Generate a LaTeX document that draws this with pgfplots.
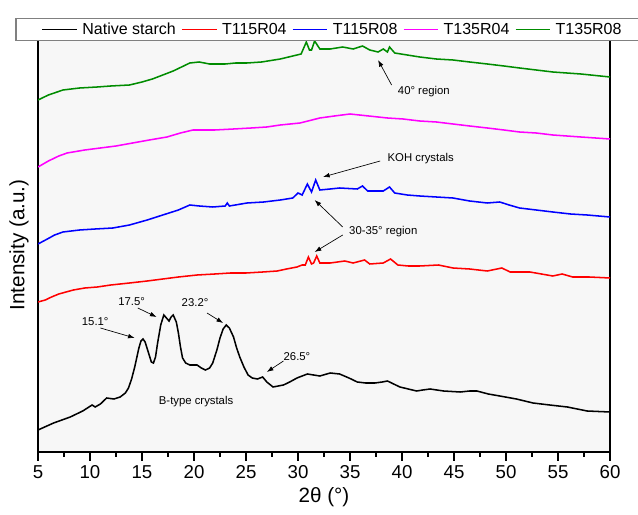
\documentclass[border=0pt]{standalone}
\usepackage{pgfplots}
\pgfplotsset{compat=1.18}
\usepackage{fontspec}
\setmainfont{Liberation Sans}
\usetikzlibrary{arrows.meta}
\definecolor{cgreen}{RGB}{0,140,0}
\definecolor{cmag}{RGB}{255,0,255}
\definecolor{cred}{RGB}{255,0,0}
\definecolor{cblue}{RGB}{0,0,255}
\begin{document}
\begin{tikzpicture}
\begin{axis}[
 scale only axis, width=429pt, height=310.5pt,
 xmin=5, xmax=60, ymin=0, ymax=414,
 xtick={5,10,...,60}, minor xtick={7.5,12.5,...,57.5},
 ytick=\empty,
 tick align=outside, xtick pos=bottom,
 major tick length=6.5pt, minor tick length=3.5pt,
 tick style={black, line width=0.8pt},
 axis line style={line width=0.8pt},
 axis background/.style={fill=black!3},
 tick label style={font=\fontsize{14}{16}\selectfont},
 /pgf/number format/assume math mode=true,
 xlabel={2θ (°)}, ylabel={Intensity (a.u.)},
 label style={font=\fontsize{15.5}{18}\selectfont},
 xlabel style={at={(rel axis cs:0.5,-0.1087)},anchor=center},
 ylabel style={at={(rel axis cs:-0.0332,0.5)},anchor=center},
 legend style={at={(-0.0385,1.0205)}, anchor=west, legend columns=5, draw=none, fill=white, name=leg, font=\fontsize{12}{14}\selectfont, inner xsep=19pt, inner ysep=1pt,
   /tikz/every even column/.append style={column sep=2pt},
   /tikz/every odd column/.append style={column sep=1.5pt}},
 legend entries={Native starch,T115R04,T115R08,T135R04,T135R08},
 every axis plot/.append style={line width=1.15pt},
]
\addlegendimage{legend image code/.code={\draw[draw=black,line width=1.15pt] (0pt,0pt) -- (26pt,0pt);}}
\addlegendimage{legend image code/.code={\draw[draw=cred,line width=1.15pt] (0pt,0pt) -- (26pt,0pt);}}
\addlegendimage{legend image code/.code={\draw[draw=cblue,line width=1.15pt] (0pt,0pt) -- (26pt,0pt);}}
\addlegendimage{legend image code/.code={\draw[draw=cmag,line width=1.15pt] (0pt,0pt) -- (26pt,0pt);}}
\addlegendimage{legend image code/.code={\draw[draw=cgreen,line width=1.15pt] (0pt,0pt) -- (26pt,0pt);}}
\addplot[black] coordinates {(5.0,22)(6.5,29)(8.1,35)(9.3,41)(10.2,47)(10.5,45)(11.0,48)(11.6,54)(12.3,53)(12.9,55)(13.4,59)(13.7,64)(14.0,73)(14.3,85)(14.7,104)(14.9,111)(15.1,113)(15.3,110)(15.6,100)(15.9,90)(16.1,89)(16.3,95)(16.5,109)(16.8,127)(17.1,137)(17.35,134)(17.6,131)(17.8,135)(18.0,137)(18.3,130)(18.5,119)(18.7,105)(18.9,94)(19.2,89)(19.6,87)(20.3,87)(20.7,84)(21.1,82)(21.5,84)(21.8,89)(22.2,102)(22.5,114)(22.8,123)(23.1,127)(23.4,124)(23.8,115)(24.1,104)(24.4,95)(24.8,85)(25.2,77)(25.6,74)(26.1,73)(26.6,75)(27.0,70)(27.6,65)(28.1,66)(28.6,67)(29.2,70)(29.9,74)(30.9,78)(32.1,76)(33.1,79)(34.0,78)(34.9,74)(35.7,70)(36.5,69)(37.4,69)(38.1,70)(38.6,71)(39.2,68)(39.8,65)(40.6,63)(41.4,61)(42.0,62)(42.7,63)(44.0,61)(45.6,60)(46.5,61)(47.2,61)(48.3,58)(49.4,56)(51.0,53)(52.6,49)(54.2,47)(55.9,45)(57.8,41)(60.0,40)};
\addplot[cred] coordinates {(5.0,150)(5.7,152)(6.3,155)(7.0,158)(8.4,162)(9.5,164)(10.7,165)(12.0,167)(13.8,169)(15.5,171)(17.0,173)(18.5,175)(20.3,177)(22.0,178)(23.5,179)(25.0,179)(26.6,180)(28.0,181)(28.9,183)(29.9,185)(30.4,187)(30.7,187)(31.0,195)(31.3,188)(31.5,189)(31.8,196)(32.1,189)(33.1,189)(34.5,191)(35.3,189)(36.4,192)(36.9,188)(38.2,189)(38.9,193)(39.6,187)(40.6,186)(41.7,186)(43.5,187)(44.9,184)(46.5,183)(48.2,181)(49.6,184)(50.4,180)(52.3,180)(53.4,178)(54.5,176)(55.4,178)(56.4,175)(58.0,175)(60.0,174)};
\addplot[cblue] coordinates {(5.0,208)(5.9,213)(6.6,217)(7.4,220)(9.0,222)(10.5,223)(12.2,224)(13.8,227)(15.5,232)(17.0,237)(18.5,242)(19.6,247)(20.5,246)(21.8,245)(23.0,246)(23.2,249)(23.4,246)(25.1,249)(26.7,250)(28.3,252)(29.5,254)(30.0,259)(30.4,257)(30.9,268)(31.3,260)(31.7,272)(32.1,262)(33.1,263)(34.0,264)(35.7,263)(36.2,266)(36.7,261)(38.2,261)(38.8,265)(39.3,259)(40.5,257)(41.7,256)(43.3,255)(44.9,254)(46.5,251)(48.2,249)(49.4,250)(50.3,247)(51.3,244)(52.9,242)(54.5,240)(56.2,238)(57.8,237)(60.0,235)};
\addplot[cmag] coordinates {(5.0,285)(6.0,291)(7.0,296)(7.8,299)(9.5,302)(11.0,304)(12.5,306)(14.1,309)(15.7,312)(17.4,315)(18.7,319)(19.9,322)(22.0,322)(23.8,323)(25.5,324)(27.0,325)(28.3,327)(30.2,329)(32.1,334)(33.5,336)(35.0,338)(36.8,336)(38.6,334)(40.1,333)(41.7,331)(43.3,330)(44.9,328)(46.5,326)(48.2,324)(49.8,322)(51.3,320)(52.9,319)(54.5,317)(57.2,315)(60.0,313)};
\addplot[cgreen] coordinates {(5.0,352)(6.0,357)(7.4,362)(9.0,364)(10.7,365)(12.0,366)(13.8,367)(15.0,370)(16.0,373)(17.0,377)(18.0,381)(19.0,386)(19.6,389)(20.5,390)(21.5,388)(23.0,388)(24.0,389)(25.1,389)(26.5,390)(28.3,393)(29.9,397)(30.3,398)(30.8,410)(31.1,402)(31.3,402)(31.6,411)(32.1,403)(33.1,403)(34.3,405)(35.3,403)(36.2,406)(36.9,402)(37.7,400)(38.2,403)(38.6,400)(38.8,405)(39.3,399)(40.5,397)(41.7,395)(43.3,393)(44.9,392)(46.5,390)(48.2,388)(49.8,386)(51.3,384)(52.9,382)(54.5,380)(57.2,378)(60.0,375)};
\begin{scope}[every node/.style={font=\fontsize{8.5}{10}\selectfont}]
\node at (axis cs:10.5,130) {15.1°};
\node at (axis cs:14.0,150) {17.5°};
\node at (axis cs:20.1,149) {23.2°};
\node at (axis cs:29.9,95) {26.5°};
\node at (axis cs:20.2,50) {B-type crystals};
\node at (axis cs:41.8,293) {KOH crystals};
\node at (axis cs:38.2,220) {30-35° region};
\node at (axis cs:42.1,360) {40° region};
\end{scope}
\begin{scope}[-{Latex[length=5pt,width=3.5pt]}, line width=0.5pt]
\draw (axis cs:11.0,124) -- (axis cs:14.3,114);
\draw (axis cs:14.6,144) -- (axis cs:16.4,135);
\draw (axis cs:21.25,139) -- (axis cs:22.8,129);
\draw (axis cs:28.6,91) -- (axis cs:27.0,80);
\draw (axis cs:37.9,291) -- (axis cs:32.4,275);
\draw (axis cs:34.3,225) -- (axis cs:31.6,252);
\draw (axis cs:34.3,217) -- (axis cs:31.6,200);
\draw (axis cs:39.0,367) -- (axis cs:37.7,392);
\end{scope}
\coordinate (bl) at (rel axis cs:-0.06643,-0.14976);
\coordinate (tr) at (rel axis cs:1.04895,1.09179);
\end{axis}
\draw[gray, line width=0.8pt] (leg.south west) rectangle (leg.north east);
\pgfresetboundingbox
\path[use as bounding box] (bl) rectangle (tr);
\end{tikzpicture}
\end{document}
